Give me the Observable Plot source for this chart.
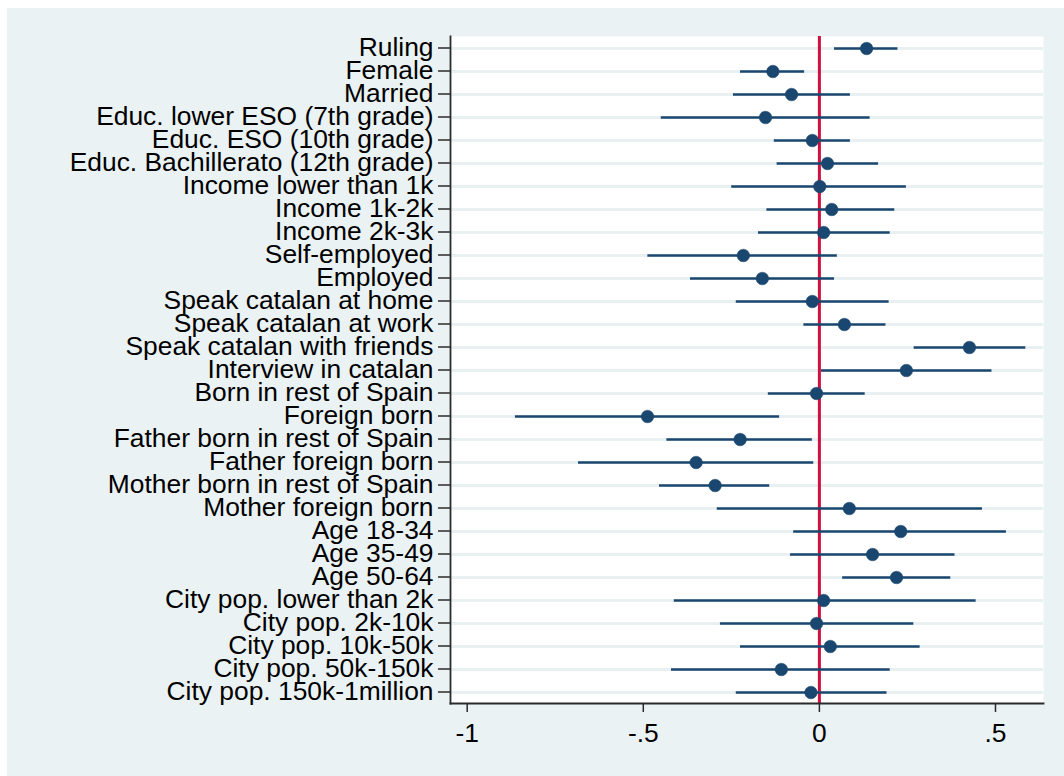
<!DOCTYPE html>
<html>
<head>
<meta charset="utf-8">
<script src="https://cdn.jsdelivr.net/npm/d3@7"></script>
<script src="https://cdn.jsdelivr.net/npm/@observablehq/plot@0.6"></script>
<style>
  body { margin: 0; background: #ffffff; }
  #chart { position: relative; width: 1064px; height: 776px; }
  #region { position: absolute; left: 7px; top: 8px; right: 0; bottom: 0; background: #eaf2f3; }
  #chart svg { position: absolute; left: 0; top: 0; }
</style>
</head>
<body>
<div id="chart"><div id="region"></div></div>
<script>
// Covariates, top to bottom
const labels = [
  "Ruling", "Female", "Married",
  "Educ. lower ESO (7th grade)", "Educ. ESO (10th grade)", "Educ. Bachillerato (12th grade)",
  "Income lower than 1k", "Income 1k-2k", "Income 2k-3k",
  "Self-employed", "Employed",
  "Speak catalan at home", "Speak catalan at work", "Speak catalan with friends", "Interview in catalan",
  "Born in rest of Spain", "Foreign born",
  "Father born in rest of Spain", "Father foreign born",
  "Mother born in rest of Spain", "Mother foreign born",
  "Age 18-34", "Age 35-49", "Age 50-64",
  "City pop. lower than 2k", "City pop. 2k-10k", "City pop. 10k-50k", "City pop. 50k-150k", "City pop. 150k-1million"
];

// Point estimates
const coef = [
  0.134, -0.132, -0.079,
  -0.153, -0.020, 0.023,
  0.001, 0.035, 0.012,
  -0.216, -0.162,
  -0.020, 0.071, 0.426, 0.247,
  -0.008, -0.488,
  -0.225, -0.350,
  -0.296, 0.085,
  0.231, 0.151, 0.219,
  0.012, -0.008, 0.031, -0.108, -0.024
];

// Lower confidence bounds
const lower = [
  0.043, -0.224, -0.244,
  -0.449, -0.128, -0.120,
  -0.249, -0.149, -0.173,
  -0.487, -0.366,
  -0.236, -0.044, 0.269, 0.006,
  -0.145, -0.863,
  -0.433, -0.684,
  -0.454, -0.290,
  -0.073, -0.082, 0.066,
  -0.412, -0.281, -0.224, -0.420, -0.236
];

// Upper confidence bounds
const upper = [
  0.223, -0.042, 0.088,
  0.144, 0.088, 0.168,
  0.247, 0.214, 0.201,
  0.051, 0.043,
  0.198, 0.189, 0.586, 0.490,
  0.130, -0.113,
  -0.020, -0.016,
  -0.141, 0.463,
  0.531, 0.385, 0.373,
  0.445, 0.268, 0.286, 0.201, 0.192
];

// Horizontal axis
const xDomain = [-1.0474, 0.6363];
const xTicks = [-1, -0.5, 0, 0.5];
const xTickLabels = ["-1", "-.5", "0", ".5"];

const rows = labels.map((label, i) => ({label, coef: coef[i], lo: lower[i], hi: upper[i]}));

const navy = "#1a476f";
const axisColor = "#2b2b2b";
const labelSize = 26.4;

const chart = Plot.plot({
  width: 1064,
  height: 776,
  marginLeft: 450,
  marginRight: 21,
  marginTop: 36,
  marginBottom: 73,
  style: {
    background: "transparent",
    fontFamily: "'Liberation Sans', Arial, sans-serif",
    fontSize: `${labelSize}px`,
    color: "#000"
  },
  x: {domain: xDomain},
  y: {type: "point", domain: labels, padding: 0.5},
  marks: [
    Plot.frame({fill: "white", stroke: "none"}),
    Plot.ruleY(labels, {stroke: "#e9f0f2", strokeWidth: 3}),
    Plot.ruleX([0], {stroke: "#d0103f", strokeWidth: 3}),
    Plot.ruleY(rows, {y: "label", x1: "lo", x2: "hi", stroke: navy, strokeWidth: 2.6}),
    Plot.dot(rows, {x: "coef", y: "label", r: 6.3, fill: navy, stroke: navy, strokeWidth: 0.5}),
    Plot.axisY({
      tickSize: 12, tickPadding: 5, label: null, dy: -0.5,
      fontSize: labelSize, stroke: axisColor, strokeWidth: 1.5
    }),
    Plot.axisX({
      ticks: xTicks,
      tickFormat: d => xTickLabels[xTicks.indexOf(d)],
      tickSize: 9, tickPadding: 11, label: null,
      fontSize: labelSize, stroke: axisColor, strokeWidth: 1.5
    }),
    Plot.frame({anchor: "left", stroke: axisColor, strokeWidth: 1.8}),
    Plot.frame({anchor: "bottom", stroke: axisColor, strokeWidth: 1.8})
  ]
});

document.getElementById("chart").appendChild(chart);
</script>
</body>
</html>
